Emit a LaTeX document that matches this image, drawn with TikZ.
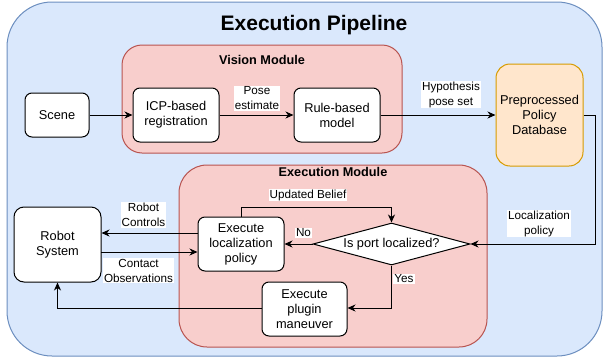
\documentclass[tikz,border=0pt]{standalone}
\usepackage{fontspec}
\setmainfont{Liberation Sans}
\usetikzlibrary{arrows.meta,shapes.geometric}
\definecolor{bluefill}{HTML}{DAE8FC}
\definecolor{bluestroke}{HTML}{6C8EBF}
\definecolor{pinkfill}{HTML}{F8CECC}
\definecolor{pinkstroke}{HTML}{B85450}
\definecolor{orangefill}{HTML}{FFE6CC}
\definecolor{orangestroke}{HTML}{D79B00}
\newcommand{\nodefont}{\fontsize{12.8}{15}\selectfont}
\newcommand{\lblfont}{\fontsize{11.7}{15}\selectfont}
\tikzset{
  container/.style={line width=1pt, rounded corners=#1},
  box/.style={draw, fill=white, line width=1pt, rounded corners=7pt, align=center,
    font=\nodefont, inner sep=0pt},
  lbl/.style={fill=white, inner sep=1pt, align=center, font=\lblfont},
  conn/.style={line width=1pt, -{Stealth[length=8pt,width=7pt,inset=2.5pt]}},
  modtitle/.style={font=\fontsize{12.7}{15}\selectfont\bfseries, inner sep=0pt}
}
\begin{document}
\begin{tikzpicture}[x=1pt,y=-1pt]
\useasboundingbox (0,0) rectangle (603,362);
% containers
\draw[container=45pt, fill=bluefill, draw=bluestroke] (7,2) rectangle (602,356);
\node[font=\fontsize{21}{25}\selectfont\bfseries, inner sep=0pt] (title) at (314,25) {Execution Pipeline};
\draw[container=20pt, fill=pinkfill, draw=pinkstroke] (122,45) rectangle (402,153);
\node[modtitle] (vtitle) at (262,60) {Vision Module};
\draw[container=28pt, fill=pinkfill, draw=pinkstroke] (179,165) rectangle (487,347);
\node[modtitle] (etitle) at (333,172) {Execution Module};
% nodes
\node[box, minimum width=64pt, minimum height=44pt] (scene) at (57,115) {Scene};
\node[box, minimum width=86pt, minimum height=54pt] (icp) at (176,115) {ICP-based\\registration};
\node[box, minimum width=86pt, minimum height=54pt] (rule) at (337,115) {Rule-based\\model};
\node[box, draw=orangestroke, fill=orangefill, rounded corners=14pt, minimum width=87pt, minimum height=102pt] (db) at (539.5,115) {Preprocessed\\Policy\\Database};
\node[box, rounded corners=10pt, minimum width=87pt, minimum height=75pt] (robot) at (57.5,244.5) {Robot\\System};
\node[box, minimum width=86pt, minimum height=54pt] (loc) at (241,244) {Execute\\localization\\policy};
\node[draw, fill=white, line width=1pt, shape=diamond, shape aspect=3.7, inner sep=0pt,
  minimum width=157pt, minimum height=42pt, font=\nodefont] (dec) at (391.5,244) {Is port localized?};
\node[box, minimum width=85pt, minimum height=54pt] (plug) at (304.5,309) {Execute\\plugin\\maneuver};
% connectors
\draw[conn] (scene.east) -- (icp.west);
\draw[conn] (icp.east) -- (rule.west);
\node[lbl] (lpose) at (257,98.5) {Pose\\estimate};
\draw[conn] (rule.east) -- (db.west);
\node[lbl] (lhyp) at (451,94.5) {Hypothesis\\pose set};
\coordinate (c1) at (595,115);
\coordinate (c2) at (595,244);
\draw[conn] (db.east) -- (c1) -- (c2) -- (dec.east);
\node[lbl] (lpol) at (539,223.5) {Localization\\policy};
\draw[conn] (dec.west) -- (loc.east);
\node[lbl] (lno) at (303.5,233) {No};
\coordinate (u1) at (241,207);
\coordinate (u2) at (391.5,207);
\draw[conn] (loc.north) -- (u1) -- (u2) -- (dec.north);
\node[lbl] (lupd) at (308,195) {Updated Belief};
\coordinate (y1) at (391.5,308);
\draw[conn] (dec.south) -- (y1) -- (plug.east |- y1);
\node[lbl] (lyes) at (404,279) {Yes};
\coordinate (p1) at (57.5,308);
\draw[conn] (plug.west |- y1) -- (p1) -- (robot.south);
\coordinate (rc) at (198,233);
\draw[conn] (rc) -- (robot.east |- rc);
\node[lbl] (lrc) at (143.5,215) {Robot\\Controls};
\coordinate (co) at (101,252);
\draw[conn] (co) -- (loc.west |- co);
\node[lbl] (lco) at (138.5,270.5) {Contact\\Observations};
\end{tikzpicture}
\end{document}
